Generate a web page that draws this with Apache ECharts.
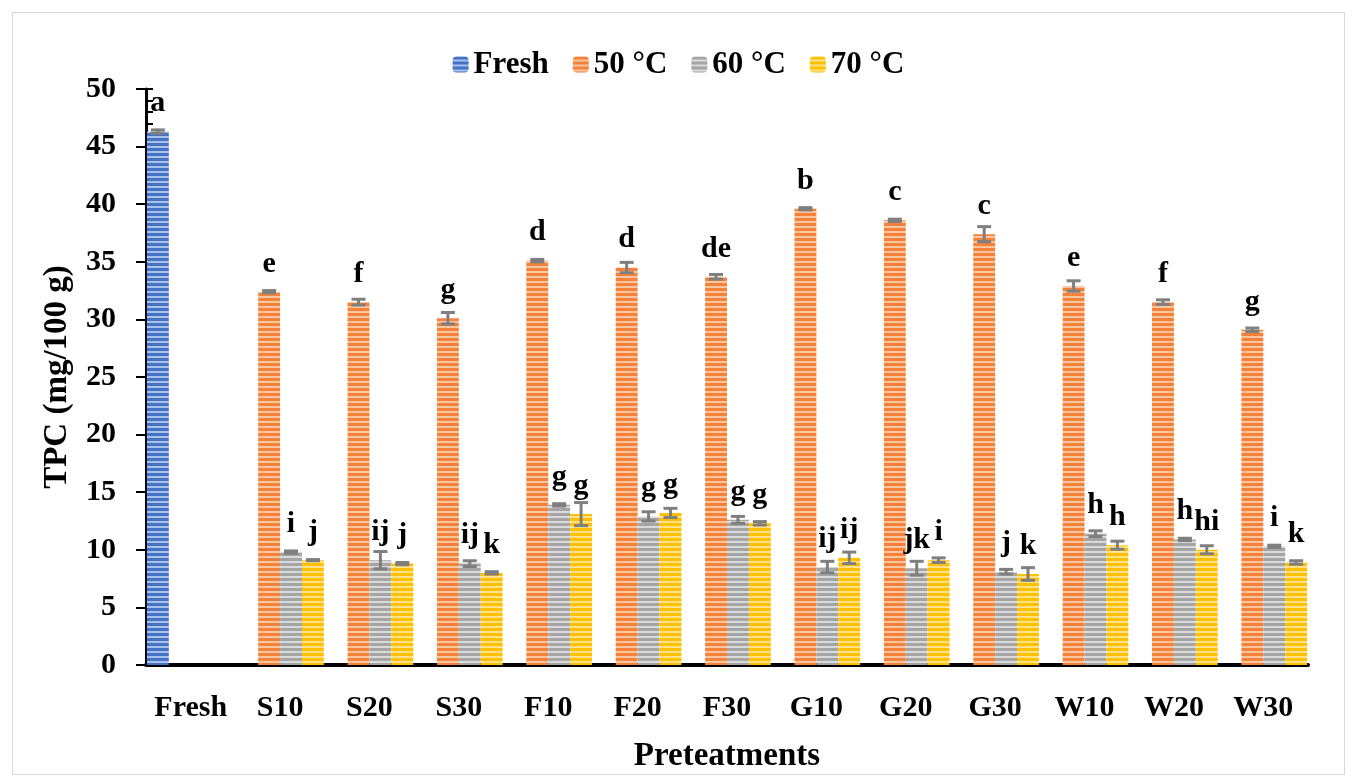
<!DOCTYPE html>
<html>
<head>
<meta charset="utf-8">
<script src="https://cdn.jsdelivr.net/npm/echarts@6/dist/echarts.min.js"></script>
<style>
  html, body { margin: 0; padding: 0; background: #fff; }
  #chart-container { position: absolute; left: 12px; top: 12px; width: 1333px; height: 763px; border: 1px solid #d9d9d9; box-sizing: border-box; }
</style>
</head>
<body>
<div id="chart-container"></div>
<script>
// categories and values
var categories = ['Fresh', 'S10', 'S20', 'S30', 'F10', 'F20', 'F30', 'G10', 'G20', 'G30', 'W10', 'W20', 'W30'];
var seriesNames = ['Fresh', '50 °C', '60 °C', '70 °C'];

var freshVals = [46.3, null, null, null, null, null, null, null, null, null, null, null, null];
var vals50 = [null, 32.4, 31.5, 30.1, 35.1, 34.5, 33.7, 39.6, 38.6, 37.4, 32.9, 31.5, 29.1];
var vals60 = [null, 9.8, 9.1, 8.8, 13.9, 12.9, 12.6, 8.5, 8.4, 8.1, 11.4, 10.9, 10.3];
var vals70 = [null, 9.1, 8.8, 8.0, 13.1, 13.2, 12.3, 9.3, 9.1, 7.9, 10.4, 10.0, 8.9];

var errFresh = [0.15, null, null, null, null, null, null, null, null, null, null, null, null];
var err50 = [null, 0.1, 0.25, 0.5, 0.1, 0.45, 0.2, 0.1, 0.1, 0.65, 0.45, 0.2, 0.15];
var err60 = [null, 0.1, 0.75, 0.25, 0.1, 0.4, 0.3, 0.5, 0.6, 0.2, 0.25, 0.1, 0.1];
var err70 = [null, 0.05, 0.1, 0.1, 1.0, 0.4, 0.15, 0.5, 0.2, 0.55, 0.35, 0.35, 0.15];

var letFresh = ['a', '', '', '', '', '', '', '', '', '', '', '', ''];
var let50 = ['', 'e', 'f', 'g', 'd', 'd', 'de', 'b', 'c', 'c', 'e', 'f', 'g'];
var let60 = ['', 'i', 'ij', 'ij', 'g', 'g', 'g', 'ij', 'jk', 'j', 'h', 'h', 'i'];
var let70 = ['', 'j', 'j', 'k', 'g', 'g', 'g', 'ij', 'i', 'k', 'h', 'hi', 'k'];

var yTicks = [0, 5, 10, 15, 20, 25, 30, 35, 40, 45, 50];

var FONT = '"Liberation Serif", "Times New Roman", serif';

// striped fill like the excel picture
function stripes(dark, light) {
  var c = document.createElement('canvas');
  c.width = 8; c.height = 5;
  var ctx = c.getContext('2d');
  ctx.fillStyle = light;
  ctx.fillRect(0, 0, 8, 5);
  ctx.fillStyle = dark;
  ctx.fillRect(0, 0, 8, 3);
  return { image: c, repeat: 'repeat' };
}

var fills = [
  stripes('#4472C4', '#A8C0EA'),
  stripes('#F5823A', '#FBC5A0'),
  stripes('#A5A5A5', '#DADADA'),
  stripes('#FFC000', '#FFE28A')
];

var allVals = [freshVals, vals50, vals60, vals70];
var allErr = [errFresh, err50, err60, err70];
var allLet = [letFresh, let50, let60, let70];

function barSeries(k) {
  return {
    name: seriesNames[k],
    type: 'bar',
    barGap: '0%',
    barCategoryGap: '2%',
    itemStyle: { color: fills[k] },
    label: {
      show: true,
      position: 'top',
      distance: 13,
      fontFamily: FONT,
      fontWeight: 'bold',
      fontSize: 30,
      color: '#000',
      formatter: function (p) { return allLet[k][p.dataIndex]; }
    },
    data: allVals[k]
  };
}

function errSeries(k) {
  var d = [];
  for (var i = 0; i < categories.length; i++) {
    if (allVals[k][i] != null) d.push([i, allVals[k][i], allErr[k][i]]);
  }
  return {
    type: 'custom',
    name: 'err' + k,
    silent: true,
    z: 5,
    encode: { x: 0, y: 1 },
    renderItem: function (params, api) {
      var i = api.value(0), v = api.value(1), e = api.value(2);
      var bw = api.size([1, 0])[0] * 0.98 / 4;
      var c = api.coord([i, v]);
      var x = c[0] + (k - 1.5) * bw;
      var top = api.coord([i, v + e])[1];
      var bot = api.coord([i, v - e])[1];
      var st = { stroke: '#7F7F7F', lineWidth: 3 };
      return {
        type: 'group',
        children: [
          { type: 'line', shape: { x1: x, y1: top, x2: x, y2: bot }, style: st },
          { type: 'line', shape: { x1: x - 7, y1: top, x2: x + 7, y2: top }, style: st },
          { type: 'line', shape: { x1: x - 7, y1: bot, x2: x + 7, y2: bot }, style: st }
        ]
      };
    },
    data: d
  };
}

var dom = document.getElementById('chart-container');
var myChart = echarts.init(dom, null, { renderer: 'canvas' });

var option = {
  animation: false,
  textStyle: { fontFamily: FONT },
  legend: {
    data: seriesNames,
    top: 31,
    left: 'center',
    itemWidth: 16,
    itemHeight: 16,
    itemGap: 24,
    textStyle: { fontFamily: FONT, fontWeight: 'bold', fontSize: 31, color: '#000' }
  },
  grid: { left: 133, right: 36, top: 76, bottom: 109, outerBoundsMode: 'none' },
  xAxis: {
    type: 'category',
    data: categories,
    name: 'Preteatments',
    nameLocation: 'middle',
    nameGap: 75,
    nameTextStyle: { fontFamily: FONT, fontWeight: 'bold', fontSize: 33, color: '#000' },
    axisLine: { lineStyle: { color: '#000', width: 4 } },
    axisTick: { show: false },
    axisLabel: { interval: 0, hideOverlap: false, margin: 28, fontFamily: FONT, fontWeight: 'bold', fontSize: 30, color: '#000' }
  },
  yAxis: [
    {
      type: 'value',
      min: yTicks[0],
      max: yTicks[yTicks.length - 1],
      interval: 5,
      name: 'TPC (mg/100 g)',
      nameLocation: 'middle',
      nameGap: 72,
      nameTextStyle: { fontFamily: FONT, fontWeight: 'bold', fontSize: 33, color: '#000' },
      axisLine: { show: true, lineStyle: { color: '#000', width: 3 } },
      axisTick: { show: true, length: 10, lineStyle: { color: '#000', width: 2 } },
      axisLabel: { margin: 30, fontFamily: FONT, fontWeight: 'bold', fontSize: 30, color: '#000' },
      splitLine: { show: false }
    },
    {
      // inner minor ticks
      type: 'value',
      position: 'left',
      min: 0,
      max: 50,
      interval: 1,
      axisLine: { show: false },
      axisTick: { show: true, inside: true, length: 7, lineStyle: { color: '#000', width: 2 } },
      axisLabel: { show: false },
      splitLine: { show: false }
    }
  ],
  series: [
    barSeries(0), barSeries(1), barSeries(2), barSeries(3),
    errSeries(0), errSeries(1), errSeries(2), errSeries(3)
  ]
};

myChart.setOption(option);
window.addEventListener('resize', myChart.resize);
</script>
</body>
</html>
